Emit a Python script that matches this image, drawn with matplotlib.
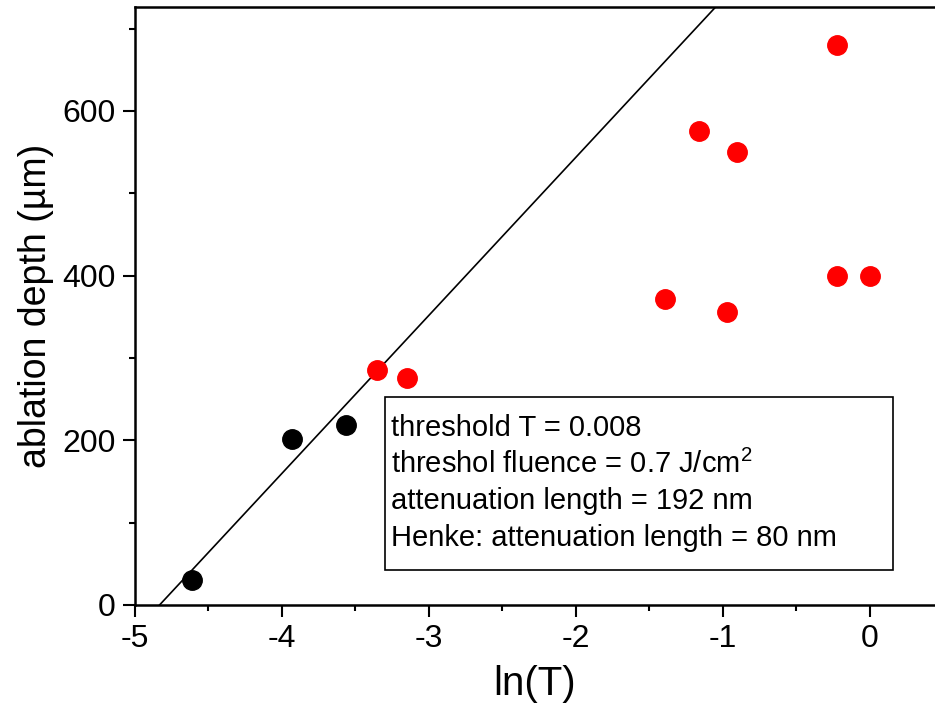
import numpy as np
import matplotlib
matplotlib.use("Agg")
import matplotlib.pyplot as plt
from matplotlib.ticker import MultipleLocator
from matplotlib.patches import Rectangle

plt.rcParams['font.family'] = ['Liberation Sans', 'DejaVu Sans']
plt.rcParams['axes.unicode_minus'] = False
plt.rcParams['mathtext.fontset'] = 'custom'
plt.rcParams['mathtext.rm'] = 'Liberation Sans'
plt.rcParams['mathtext.it'] = 'Liberation Sans'

# data
black_x = [-4.61, -3.93, -3.56]
black_y = [30, 202, 218]
red_x = [-3.35, -3.15, -1.39, -1.16, -0.97, -0.90, -0.22, -0.22, 0.0]
red_y = [285, 276, 371, 576, 356, 550, 680, 400, 400]
fit_x0 = -4.83      # ln(threshold T)
fit_slope = 192     # attenuation length
box_lines = ["threshold T = 0.008",
             "threshol fluence = 0.7 J/cm$^{\\mathrm{2}}$",
             "attenuation length = 192 nm",
             "Henke: attenuation length = 80 nm"]

fig = plt.figure(figsize=(9.35, 7.21), dpi=100)
ax = fig.add_axes([0.144, 0.161, 0.856, 0.829])

xf = np.array([fit_x0, 1.0])
ax.plot(xf, fit_slope * (xf - fit_x0), color='black', lw=1.2, zorder=2)
ax.plot(black_x, black_y, 'o', color='black', ms=14, zorder=3)
ax.plot(red_x, red_y, 'o', color='#ff0000', ms=14, zorder=3)

ax.set_xlim(-5, 0.445)
ax.set_ylim(0, 726)
ax.xaxis.set_major_locator(MultipleLocator(1))
ax.xaxis.set_minor_locator(MultipleLocator(0.5))
ax.yaxis.set_major_locator(MultipleLocator(200))
ax.yaxis.set_minor_locator(MultipleLocator(100))
ax.tick_params(which='major', direction='out', length=8.5, width=1.5, labelsize=23, pad=5)
ax.tick_params(which='minor', direction='out', length=4.5, width=1.5)
ax.spines['right'].set_visible(False)
for s in ['left', 'top', 'bottom']:
    ax.spines[s].set_linewidth(1.8)

ax.set_xlabel('ln(T)', fontsize=29, labelpad=8)
ax.set_ylabel('ablation depth (\u00b5m)', fontsize=27, labelpad=6)

# text box
fig.patches.append(Rectangle((385/935, 1-570/721), (893-385)/935, (570-397)/721,
                             transform=fig.transFigure, fill=False, ec='black', lw=1.2))
for i, t in enumerate(box_lines):
    fig.text(391/935, 1-(428 + 36.7*i)/721, t, fontsize=21, va='center', ha='left')

fig.savefig('out.png', dpi=100)
